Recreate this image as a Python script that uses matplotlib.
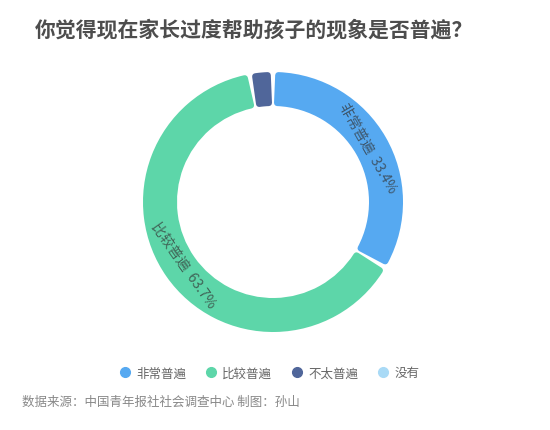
import numpy as np
import matplotlib.pyplot as plt
from matplotlib.lines import Line2D

plt.rcParams['font.family'] = ['Noto Sans CJK SC', 'DejaVu Sans']

title = '你觉得现在家长过度帮助孩子的现象是否普遍？'
source = '数据来源：中国青年报社社会调查中心 制图：孙山'
categories = ['非常普遍', '比较普遍', '不太普遍', '没有']
values = [33.4, 63.7, 2.9, 0.0]
colors = ['#56a9f1', '#5dd6a9', '#50669a', '#a9daf6']
show_label = [True, True, False, False]

W, H = 550, 431
fig = plt.figure(figsize=(W / 100, H / 100), dpi=100)
fig.patch.set_facecolor('white')

# ring: center (273, 203) px, outer radius 130 px
cx, cy, R = 273, 203, 130
ax = fig.add_axes([(cx - R) / W, (H - cy - R) / H, 2 * R / W, 2 * R / H])

lw = 4.5                      # points, used to round corners
half = lw * 100 / 72 / 2      # px
outer = 1 - half / R
width = (34 - 2 * half) / R

wedges, _ = ax.pie(values, colors=colors, startangle=90, counterclock=False,
                   radius=outer, wedgeprops=dict(width=width))
ax.set_xlim(-1, 1)
ax.set_ylim(-1, 1)
ax.set_aspect('equal')
ax.axis('off')

mid_r = 113
shrink = np.degrees((1.6 + half) / mid_r)
for w, c in zip(wedges, colors):
    t1, t2 = w.theta1 + shrink, w.theta2 - shrink
    if t2 <= t1:
        w.set_visible(False)
        continue
    w.set_theta1(t1)
    w.set_theta2(t2)
    w.set_edgecolor(c)
    w.set_linewidth(lw)
    w.set_joinstyle('round')

# tangential labels
for w, name, v, show in zip(wedges, categories, values, show_label):
    if not show:
        continue
    ang = (w.theta1 + w.theta2) / 2
    r = 109 / R
    x, y = r * np.cos(np.radians(ang)), r * np.sin(np.radians(ang))
    rot = ang - 90
    if rot < -90:
        rot += 180
    if rot > 90:
        rot -= 180
    ax.text(x, y, f'{name}  {v}%', rotation=rot, rotation_mode='anchor',
            ha='center', va='center', fontsize=10, color='#333333', alpha=0.7)

fig.text(254 / W, 1 - 30 / H, title, ha='center', va='center',
         fontsize=15, fontweight='bold', color='#4d4d4d')

handles = [Line2D([], [], marker='o', linestyle='none', markersize=7,
                  markerfacecolor=c, markeredgecolor=c) for c in colors]
fig.legend(handles, categories, loc='center', bbox_to_anchor=(269 / W, 1 - 374 / H),
           ncol=4, frameon=False, fontsize=9, labelcolor='#666666',
           handletextpad=0.4, columnspacing=1.5, handlelength=1.0)

fig.text(22 / W, 1 - 402 / H, source, ha='left', va='center',
         fontsize=9, color='#888888')

fig.savefig('out.png', dpi=100)
